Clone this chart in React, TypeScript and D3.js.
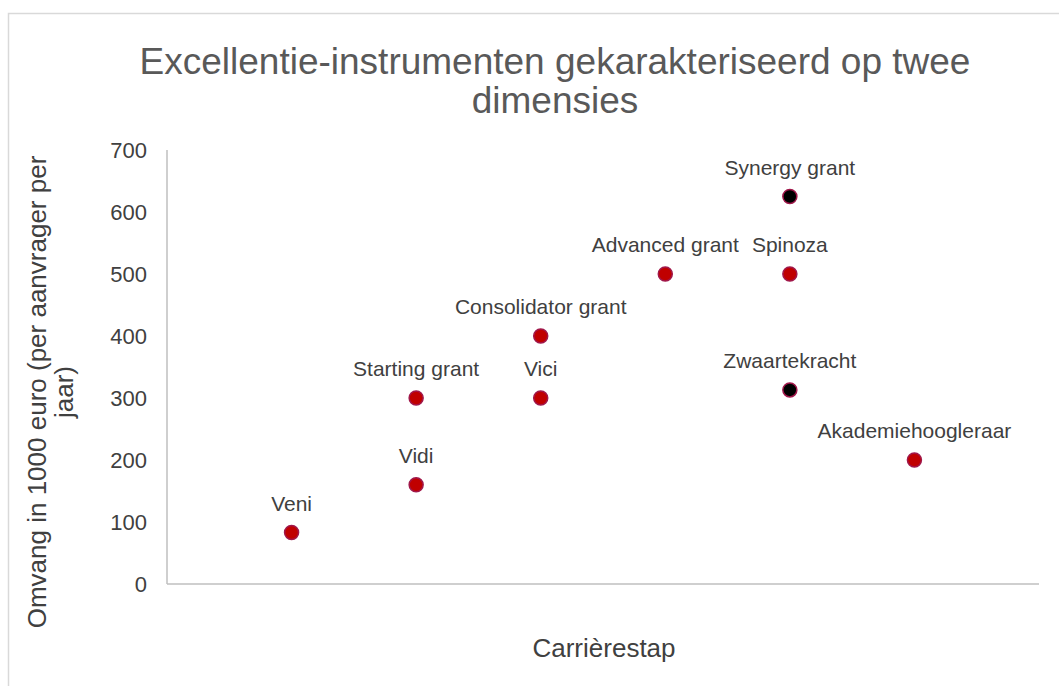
import React from "react"
import * as d3 from "d3"

// instrument, career step (1..6), amount in 1000 euro, dark marker
const names = ["Veni", "Vidi", "Starting grant", "Vici", "Consolidator grant", "Advanced grant", "Spinoza", "Synergy grant", "Zwaartekracht", "Akademiehoogleraar"]
const steps = [1, 2, 2, 3, 3, 4, 5, 5, 5, 6]
const amounts = [83, 160, 300, 300, 400, 500, 500, 625, 313, 200]
const dark = [false, false, false, false, false, false, false, true, true, false]
const yTicks = [0, 100, 200, 300, 400, 500, 600, 700]

const App = () => {
    const W = 1059, H = 686
    const left = 167, right = 1039, top = 150, bottom = 584

    const x = d3.scaleLinear().domain([0, 7]).range([left, right])
    const y = d3.scaleLinear().domain([0, 700]).range([bottom, top])

    const font = "'Liberation Sans', Arial, sans-serif"

    return (
        <svg width={W} height={H} style={{position: "absolute", left: 0, top: 0}} fontFamily={font}>
            <rect x={0} y={0} width={W} height={H} fill="#fff" />
            <rect x={8.5} y={13.5} width={1200} height={800} fill="none" stroke="#d9d9d9" strokeWidth={1.5} />

            <text x={555} y={74} textAnchor="middle" fontSize={37} fill="#595959">Excellentie-instrumenten gekarakteriseerd op twee</text>
            <text x={555} y={113} textAnchor="middle" fontSize={37} fill="#595959">dimensies</text>

            <line x1={left} x2={left} y1={top} y2={bottom} stroke="#bfbfbf" strokeWidth={1.5} />
            <line x1={left} x2={right} y1={bottom} y2={bottom} stroke="#bfbfbf" strokeWidth={1.5} />

            {yTicks.map(t => (
                <text key={t} x={147} y={y(t)} dy="0.35em" textAnchor="end" fontSize={22} fill="#404040">{t}</text>
            ))}

            <text transform="translate(46,392) rotate(-90)" textAnchor="middle" fontSize={26} fill="#404040">Omvang in 1000 euro (per aanvrager per</text>
            <text transform="translate(73,392) rotate(-90)" textAnchor="middle" fontSize={26} fill="#404040">jaar)</text>

            <text x={604} y={657} textAnchor="middle" fontSize={26} fill="#404040">Carrièrestap</text>

            {names.map((n, i) => (
                <g key={n}>
                    <circle cx={x(steps[i])} cy={y(amounts[i])} r={7}
                        fill={dark[i] ? "#000" : "#C00000"} stroke="#A0174A" strokeWidth={1.5} />
                    <text x={x(steps[i])} y={y(amounts[i]) - 22} textAnchor="middle" fontSize={21} fill="#404040">{n}</text>
                </g>
            ))}
        </svg>
    )
}

export default App
